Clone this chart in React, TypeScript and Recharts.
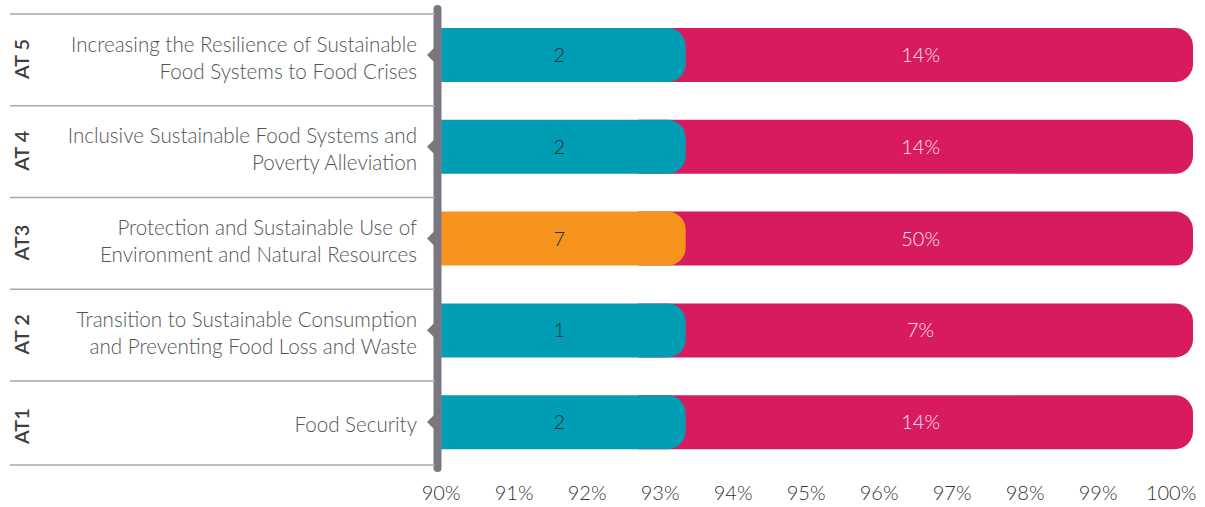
import { Bar, BarChart, Cell, LabelList, XAxis, YAxis } from 'recharts';

// Row codes (top to bottom) and their titles
const codes = ['AT 5', 'AT 4', 'AT3', 'AT 2', 'AT1'];
const titles = [
  ['Increasing the Resilience of Sustainable', 'Food Systems to Food Crises'],
  ['Inclusive Sustainable Food Systems and', 'Poverty Alleviation'],
  ['Protection and Sustainable Use of', 'Environment and Natural Resources'],
  ['Transition to Sustainable Consumption', 'and Preventing Food Loss and Waste'],
  ['Food Security'],
];
const counts = [2, 2, 7, 1, 2];
const shares = ['14%', '14%', '50%', '7%', '14%'];
// bar extents on the % axis
const countRange = [90, 93.35];
const shareRange = [92.7, 100.3];
const xTicks = [90, 91, 92, 93, 94, 95, 96, 97, 98, 99, 100];
const highlighted = 'AT3';

const FONT = 'Lato, "Open Sans", sans-serif';
const TEAL = '#009db4';
const ORANGE = '#f7941e';
const PINK = '#d81b5f';
const AXIS_GREY = '#7b7580';

const data = codes.map((code, i) => ({
  code,
  count: counts[i],
  share: shares[i],
  countRange,
  shareRange,
}));

function RowTick(props: any) {
  const { y, payload } = props;
  const i = codes.indexOf(payload.value);
  const lines = titles[i] ?? [];
  const lineH = 27;
  const startY = y + 3 - ((lines.length - 1) * lineH) / 2;
  return (
    <g>
      <line x1={10} x2={435} y1={y - 41} y2={y - 41} stroke="#a9a9a9" strokeWidth={1.5} />
      {i === codes.length - 1 && (
        <line x1={10} x2={435} y1={y + 43} y2={y + 43} stroke="#a9a9a9" strokeWidth={1.5} />
      )}
      <text
        x={0}
        y={0}
        transform={`translate(29, ${y + 4}) rotate(-90)`}
        textAnchor="middle"
        fontFamily={FONT}
        fontWeight={600}
        fontSize={20}
        fill="#3d3d3d"
      >
        {payload.value}
      </text>
      {lines.map((t, k) => (
        <text
          key={k}
          x={417}
          y={startY + k * lineH}
          dy="0.35em"
          textAnchor="end"
          fontFamily={FONT}
          fontWeight={300}
          fontSize={20.6}
          fill="#555"
        >
          {t}
        </text>
      ))}
      <polygon points={`427,${y} 434,${y - 7} 434,${y + 7}`} fill={AXIS_GREY} />
    </g>
  );
}

function XTick(props: any) {
  const { x, y, payload } = props;
  return (
    <text x={x} y={y + 32} textAnchor="middle" fontFamily={FONT} fontWeight={300} fontSize={20} fill="#333">
      {`${payload.value}%`}
    </text>
  );
}

function CenterLabel(color: string, shift: number) {
  return (props: any) => {
    const { x, y, width, height, value } = props;
    return (
      <text
        x={x + width / 2 + shift}
        y={y + height / 2}
        dy="0.35em"
        textAnchor="middle"
        fontFamily={FONT}
        fontWeight={300}
        fontSize={20}
        fill={color}
      >
        {value}
      </text>
    );
  };
}

export default function App() {
  return (
    <div style={{ position: 'fixed', left: 0, top: 0, background: '#fff' }}>
      <BarChart
        width={1205}
        height={507}
        data={data}
        layout="vertical"
        barSize={54}
        barGap={-54}
        margin={{ top: 9, right: 12, bottom: 0, left: 0 }}
      >
        <XAxis
          type="number"
          domain={[89.95, 100.3]}
          ticks={xTicks}
          allowDataOverflow
          axisLine={false}
          tickLine={false}
          tickSize={0}
          tickMargin={0}
          height={39}
          tick={<XTick />}
        />
        <YAxis
          type="category"
          dataKey="code"
          width={437.5}
          axisLine={{ stroke: AXIS_GREY, strokeWidth: 8, strokeLinecap: 'round' }}
          tickLine={false}
          tick={<RowTick />}
        />
        <Bar dataKey="shareRange" fill={PINK} radius={[0, 18, 18, 0]} isAnimationActive={false}>
          <LabelList dataKey="share" content={CenterLabel('#fde6ee', 5)} />
        </Bar>
        <Bar dataKey="countRange" fill={TEAL} radius={[0, 18, 18, 0]} isAnimationActive={false}>
          {data.map((d) => (
            <Cell key={d.code} fill={d.code === highlighted ? ORANGE : TEAL} />
          ))}
          <LabelList dataKey="count" content={CenterLabel('#2e2e2e', -4)} />
        </Bar>
      </BarChart>
    </div>
  );
}
